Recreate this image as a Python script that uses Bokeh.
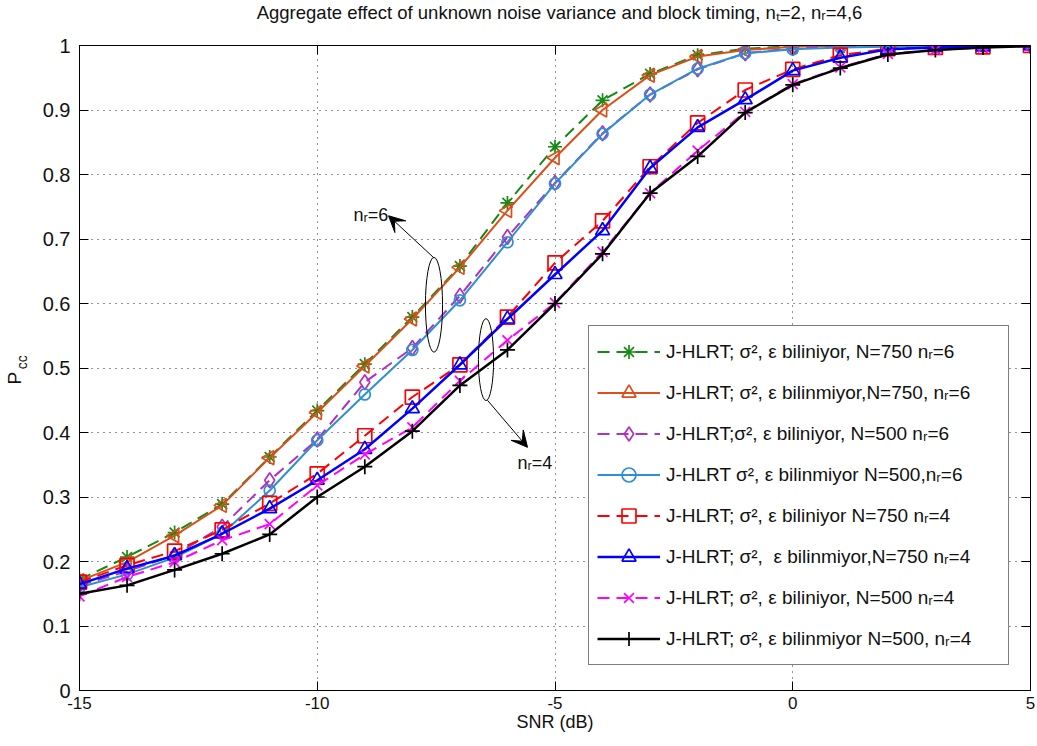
import math
from bokeh.plotting import figure
from bokeh.layouts import column, row
from bokeh.models import (Range1d, LinearAxis, FixedTicker, Legend, LegendItem, Label,
                          Arrow, VeeHead, ColumnDataSource)
from bokeh.embed import file_html
from bokeh.resources import INLINE

# ---------------- data ----------------
snr_db = [-15, -14, -13, -12, -11, -10, -9, -8, -7, -6, -5, -4, -3, -2, -1, 0, 1, 2, 3, 4, 5]

known_n750_nr6 = [0.172, 0.207, 0.245, 0.289, 0.362, 0.434, 0.506, 0.579, 0.658, 0.756, 0.843,
                  0.915, 0.956, 0.985, 0.995, 0.999, 1.0, 1.0, 1.0, 1.0, 1.0]
unknown_n750_nr6 = [0.170, 0.199, 0.240, 0.287, 0.361, 0.431, 0.503, 0.576, 0.656, 0.744, 0.826,
                    0.900, 0.954, 0.983, 0.993, 0.998, 1.0, 1.0, 1.0, 1.0, 1.0]
known_n500_nr6 = [0.163, 0.185, 0.210, 0.254, 0.326, 0.389, 0.478, 0.531, 0.612, 0.703, 0.787,
                  0.864, 0.924, 0.963, 0.988, 0.996, 0.999, 1.0, 1.0, 1.0, 1.0]
unknown_n500_nr6 = [0.160, 0.180, 0.206, 0.243, 0.310, 0.388, 0.459, 0.528, 0.605, 0.695, 0.786,
                    0.863, 0.924, 0.964, 0.988, 0.994, 0.997, 0.998, 0.999, 1.0, 1.0]
known_n750_nr4 = [0.168, 0.194, 0.216, 0.249, 0.290, 0.336, 0.395, 0.455, 0.505, 0.579, 0.663,
                  0.728, 0.812, 0.880, 0.931, 0.963, 0.985, 0.995, 0.997, 0.998, 1.0]
unknown_n750_nr4 = [0.165, 0.189, 0.209, 0.243, 0.282, 0.326, 0.374, 0.437, 0.505, 0.576, 0.645,
                    0.713, 0.810, 0.873, 0.916, 0.961, 0.981, 0.994, 0.997, 0.998, 1.0]
known_n500_nr4 = [0.146, 0.176, 0.199, 0.233, 0.258, 0.318, 0.366, 0.408, 0.480, 0.543, 0.601,
                  0.680, 0.771, 0.837, 0.897, 0.940, 0.966, 0.987, 0.993, 0.997, 0.999]
unknown_n500_nr4 = [0.150, 0.163, 0.187, 0.212, 0.242, 0.300, 0.347, 0.402, 0.473, 0.528, 0.600,
                    0.677, 0.771, 0.828, 0.896, 0.939, 0.965, 0.986, 0.993, 0.997, 0.999]

series_labels = [
    "J-HLRT; σ², ε biliniyor, N=750 nᵣ=6",
    "J-HLRT; σ², ε bilinmiyor,N=750, nᵣ=6",
    "J-HLRT;σ², ε biliniyor, N=500 nᵣ=6",
    "J-HLRT σ², ε bilinmiyor N=500,nᵣ=6",
    "J-HLRT; σ², ε biliniyor N=750 nᵣ=4",
    "J-HLRT; σ²,  ε bilinmiyor,N=750 nᵣ=4",
    "J-HLRT; σ², ε biliniyor, N=500 nᵣ=4",
    "J-HLRT; σ², ε bilinmiyor N=500, nᵣ=4",
]

x_ticks = [-15, -10, -5, 0, 5]
x_tick_labels = ["-15", "-10", "-5", "0", "5"]
y_ticks = [0, 0.1, 0.2, 0.3, 0.4, 0.5, 0.6, 0.7, 0.8, 0.9, 1]
y_tick_labels = ["0", "0.1", "0.2", "0.3", "0.4", "0.5", "0.6", "0.7", "0.8", "0.9", "1"]

title_text = "Aggregate effect of unknown noise variance and block timing, nₜ=2, nᵣ=4,6"
x_label = "SNR (dB)"
y_label_main = "P"
y_label_sub = "cc"

# ---------------- styles ----------------
FONT = "'Liberation Sans', Arial, sans-serif"
TXT = "#111111"

styles = [
    # color, dash, width, marker, size, angle
    ("#168A16", "12 7", 2.0, "asterisk", 14, 0.0),
    ("#DC4F1A", "solid", 2.0, "triangle", 14, math.pi / 2),
    ("#B030C0", "12 7", 2.0, "diamond", 15, 0.0),
    ("#2E8FD2", "solid", 2.0, "circle", 11, 0.0),
    ("#FF0000", "12 7", 2.0, "square", 14, 0.0),
    ("#0000FF", "solid", 2.5, "triangle", 14, 0.0),
    ("#FF00FF", "12 7", 2.0, "x", 14, 0.0),
    ("#000000", "solid", 2.5, "cross", 15, 0.0),
]
series = [known_n750_nr6, unknown_n750_nr6, known_n500_nr6, unknown_n500_nr6,
          known_n750_nr4, unknown_n750_nr4, known_n500_nr4, unknown_n500_nr4]


def text_panel(w, h):
    f = figure(width=w, height=h, output_backend="svg", toolbar_location=None,
               x_axis_type=None, y_axis_type=None,
               x_range=Range1d(0, w), y_range=Range1d(0, h),
               min_border_left=0, min_border_right=0, min_border_top=0, min_border_bottom=0)
    f.outline_line_color = None
    f.background_fill_color = "white"
    f.border_fill_color = "white"
    return f


# title strip (25 px high) and y-label strip (30 px wide)
top_fig = text_panel(1037, 25)
top_fig.add_layout(Label(x=559, y=13, text=title_text, text_font=FONT, text_font_size="18.5px",
                         text_align="center", text_baseline="middle", text_color=TXT))

left_fig = text_panel(30, 721)
left_fig.add_layout(Label(x=14, y=349, text=y_label_main, text_font=FONT, text_font_size="19px",
                          angle=math.pi / 2, text_align="center", text_baseline="middle",
                          text_color=TXT))
left_fig.add_layout(Label(x=21, y=367, text=y_label_sub, text_font=FONT, text_font_size="14px",
                          angle=math.pi / 2, text_align="center", text_baseline="middle",
                          text_color=TXT))

# ---------------- main figure ----------------
p = figure(width=1007, height=721, output_backend="svg", toolbar_location=None,
           x_range=Range1d(-15, 5), y_range=Range1d(0, 1),
           min_border_left=49, min_border_right=7, min_border_top=20, min_border_bottom=56)
p.background_fill_color = "white"
p.border_fill_color = "white"
p.outline_line_color = "black"
p.outline_line_width = 1

for ax in (p.xaxis[0], p.yaxis[0]):
    ax.major_tick_in = 9
    ax.major_tick_out = 0
    ax.minor_tick_line_color = None
    ax.axis_line_color = "black"
    ax.major_tick_line_color = "black"
    ax.major_label_text_font = FONT
    ax.major_label_text_color = TXT
p.xaxis[0].major_label_text_font_size = "17px"
p.yaxis[0].major_label_text_font_size = "20px"
p.xaxis[0].ticker = FixedTicker(ticks=x_ticks)
p.yaxis[0].ticker = FixedTicker(ticks=y_ticks)
p.xaxis[0].major_label_overrides = {t: l for t, l in zip(x_ticks, x_tick_labels)}
p.yaxis[0].major_label_overrides = {t: l for t, l in zip(y_ticks, y_tick_labels)}
p.xaxis[0].major_label_standoff = 6
p.yaxis[0].major_label_standoff = 9
p.xaxis[0].axis_label = x_label
p.xaxis[0].axis_label_text_font = FONT
p.xaxis[0].axis_label_text_font_size = "18px"
p.xaxis[0].axis_label_text_font_style = "normal"
p.xaxis[0].axis_label_text_color = TXT
p.xaxis[0].axis_label_standoff = 0

for loc, ticks in (("above", x_ticks), ("right", y_ticks)):
    ax = LinearAxis(ticker=FixedTicker(ticks=ticks), major_tick_in=9, major_tick_out=0,
                    minor_tick_line_color=None, axis_line_color="black",
                    major_label_text_font_size="0px", major_label_text_color=None,
                    major_label_standoff=0)
    p.add_layout(ax, loc)

for g in (p.xgrid[0], p.ygrid[0]):
    g.grid_line_color = "black"
    g.grid_line_alpha = 0.85
    g.grid_line_dash = "1 5"
    g.grid_line_width = 1
p.xgrid[0].ticker = FixedTicker(ticks=x_ticks)
p.ygrid[0].ticker = FixedTicker(ticks=y_ticks)

items = []
for vals, (col, dash, lw, mk, sz, ang), lab in zip(series, styles, series_labels):
    src = ColumnDataSource(dict(x=snr_db, y=vals))
    r1 = p.line("x", "y", source=src, line_color=col, line_dash=dash, line_width=lw)
    r2 = p.scatter("x", "y", source=src, marker=mk, size=sz, angle=ang,
                   line_color=col, fill_color=None, line_width=1.7)
    items.append(LegendItem(label=lab, renderers=[r1, r2]))

legend = Legend(items=items, location=(509, 25), padding=8, spacing=6, margin=0,
                glyph_width=63, glyph_height=35, label_height=35, label_standoff=6,
                label_width=334, border_line_color="black", border_line_width=1,
                background_fill_color="white", background_fill_alpha=1.0,
                label_text_font=FONT, label_text_font_size="19px",
                label_text_color=TXT)
p.add_layout(legend, "center")

# ---------------- annotations ----------------
p.ellipse(x=[-7.545], y=[0.598], width=0.36, height=0.147, fill_color=None,
          line_color="black", line_width=1)
p.ellipse(x=[-6.451], y=[0.513], width=0.32, height=0.127, fill_color=None,
          line_color="black", line_width=1)
p.add_layout(Arrow(x_start=-7.55, y_start=0.671, x_end=-8.50, y_end=0.736,
                   line_color="black", line_width=1,
                   end=VeeHead(size=16, fill_color="black", line_color="black")))
p.add_layout(Arrow(x_start=-6.42, y_start=0.450, x_end=-5.578, y_end=0.377,
                   line_color="black", line_width=1,
                   end=VeeHead(size=16, fill_color="black", line_color="black")))
p.add_layout(Label(x=-9.24, y=0.737, text="nᵣ=6", text_font=FONT, text_font_size="18px",
                   text_color=TXT, text_baseline="alphabetic"))
p.add_layout(Label(x=-5.79, y=0.352, text="nᵣ=4", text_font=FONT, text_font_size="18px",
                   text_color=TXT, text_baseline="alphabetic"))

layout = column(top_fig, row(left_fig, p, spacing=0), spacing=0)

open("out.html", "w").write(file_html(layout, INLINE))
